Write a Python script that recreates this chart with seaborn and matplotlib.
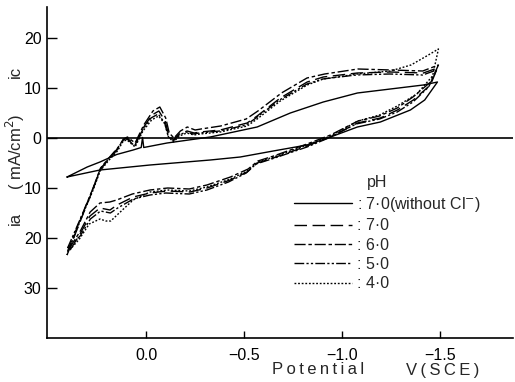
import numpy as np
import pandas as pd
import seaborn as sns
import matplotlib.pyplot as plt

# potential (V vs SCE) and current density (mA/cm2, ic positive / ia negative)
v_nocl = [0.403, 0.30, 0.235, 0.15, 0.066, 0.025, 0.018, 0.012, -0.107, -0.327, -0.566,
          -0.735, -0.903, -1.077, -1.245, -1.413, -1.485,
          -1.42, -1.347, -1.194, -1.077, -0.94, -0.82, -0.648, -0.48, -0.327, -0.02, 0.235, 0.403]
i_nocl = [-7.8, -5.8, -4.8, -3.3, -2.4, -1.9, 0.1, -1.9, -1.0, 0.2, 2.2,
          5.0, 7.2, 9.0, 9.8, 10.6, 11.2,
          7.6, 5.6, 3.2, 2.2, 0.2, -1.4, -2.6, -3.8, -4.4, -5.4, -6.4, -7.8]

v_ph7 = [0.403, 0.321, 0.276, 0.235, 0.194, 0.148, 0.117, 0.097, 0.056, 0.015, -0.03, -0.065,
         -0.097, -0.115, -0.14, -0.17, -0.209, -0.245, -0.276, -0.378, -0.515, -0.566, -0.684,
         -0.821, -0.903, -1.077, -1.245, -1.413, -1.485,
         -1.449, -1.362, -1.281, -1.194, -1.077, -0.939, -0.821, -0.648, -0.566, -0.515, -0.429,
         -0.311, -0.224, -0.107, -0.02, 0.066, 0.148, 0.184, 0.235, 0.286, 0.337, 0.403]
i_ph7 = [-23.4, -15.2, -10.8, -6.4, -4.4, -2.4, -0.4, 0.0, -1.4, 2.0, 4.6, 5.4,
         3.4, 0.6, -0.4, 0.8, 1.4, 1.0, 1.2, 1.6, 3.0, 4.4, 8.0,
         11.2, 12.2, 13.0, 13.2, 13.0, 14.0,
         10.6, 7.6, 5.6, 4.0, 3.0, 0.2, -1.6, -4.0, -5.0, -6.8, -8.4,
         -10.0, -10.8, -10.6, -11.0, -11.8, -13.4, -14.4, -14.0, -15.6, -19.2, -23.4]

v_ph6 = [0.40, 0.318, 0.272, 0.232, 0.19, 0.145, 0.115, 0.095, 0.056, 0.012, -0.035, -0.07,
         -0.1, -0.118, -0.142, -0.175, -0.21, -0.25, -0.28, -0.38, -0.51, -0.57, -0.69,
         -0.82, -0.91, -1.08, -1.25, -1.41, -1.49,
         -1.45, -1.36, -1.28, -1.19, -1.08, -0.94, -0.82, -0.65, -0.57, -0.52, -0.43,
         -0.31, -0.22, -0.11, -0.02, 0.07, 0.15, 0.185, 0.235, 0.285, 0.335, 0.40]
i_ph6 = [-22.6, -14.6, -10.2, -6.0, -4.0, -2.0, -0.2, 0.2, -1.0, 2.6, 5.4, 6.2,
         4.0, 1.0, 0.0, 1.4, 2.2, 1.6, 1.8, 2.4, 3.8, 5.4, 9.0,
         12.0, 12.8, 13.8, 13.6, 13.4, 14.6,
         11.2, 8.2, 6.0, 4.4, 3.4, 0.6, -1.2, -3.6, -4.6, -6.2, -7.8,
         -9.4, -10.2, -10.0, -10.4, -11.2, -12.4, -12.8, -13.0, -14.8, -18.6, -22.6]

v_ph5 = [0.40, 0.32, 0.275, 0.233, 0.192, 0.147, 0.116, 0.096, 0.058, 0.018, -0.025, -0.062,
         -0.095, -0.112, -0.138, -0.168, -0.205, -0.24, -0.272, -0.375, -0.51, -0.56, -0.68,
         -0.82, -0.90, -1.07, -1.24, -1.41, -1.48,
         -1.44, -1.36, -1.28, -1.19, -1.07, -0.93, -0.82, -0.64, -0.56, -0.51, -0.42,
         -0.31, -0.22, -0.10, -0.02, 0.065, 0.145, 0.182, 0.232, 0.284, 0.336, 0.40]
i_ph5 = [-22.0, -14.8, -10.6, -6.2, -4.2, -2.2, -0.4, -0.2, -1.6, 1.6, 4.0, 4.8,
         3.0, 0.4, -0.6, 0.6, 1.2, 0.8, 1.0, 1.4, 2.6, 4.0, 7.6,
         10.8, 11.8, 12.6, 12.8, 12.6, 13.6,
         10.2, 7.2, 5.2, 3.8, 2.8, 0.0, -1.8, -4.2, -5.2, -7.0, -8.8,
         -10.4, -11.2, -11.0, -11.4, -12.2, -14.0, -15.0, -14.6, -16.2, -19.6, -22.0]

v_ph4 = [0.398, 0.32, 0.274, 0.234, 0.193, 0.146, 0.116, 0.097, 0.056, 0.016, -0.028, -0.064,
         -0.096, -0.114, -0.14, -0.17, -0.207, -0.244, -0.275, -0.378, -0.515, -0.566, -0.684,
         -0.821, -0.903, -1.077, -1.245, -1.35, -1.43, -1.49,
         -1.46, -1.38, -1.28, -1.19, -1.08, -0.94, -0.82, -0.65, -0.57, -0.515, -0.43,
         -0.31, -0.22, -0.107, -0.02, 0.066, 0.148, 0.18, 0.205, 0.235, 0.29, 0.34, 0.398]
i_ph4 = [-22.8, -15.0, -10.8, -6.6, -4.6, -2.6, -0.6, -0.4, -1.8, 1.4, 3.6, 4.4,
         2.8, 0.2, -0.8, 0.4, 1.0, 0.6, 0.8, 1.2, 2.4, 3.8, 7.4,
         10.6, 11.8, 12.8, 13.4, 14.6, 16.4, 17.8,
         12.4, 8.8, 6.4, 4.6, 3.4, 0.4, -1.4, -3.8, -4.8, -6.6, -8.2,
         -9.8, -10.6, -10.4, -10.8, -12.4, -15.4, -16.6, -16.6, -16.2, -17.2, -20.2, -22.8]

curve_labels = [': 7\u00b70(without Cl$^{-}$)', ': 7\u00b70', ': 6\u00b70', ': 5\u00b70', ': 4\u00b70']
x_ticks = [0.0, -0.5, -1.0, -1.5]
x_ticklabels = ['0.0', '\u22120.5', '\u22121.0', '\u22121.5']
y_ticks = [20, 10, 0, -10, -20, -30]
y_ticklabels = ['20', '10', '0', '10', '20', '30']

sns.set_style('ticks')
plt.rcParams['font.family'] = ['Liberation Sans', 'DejaVu Sans']

fig = plt.figure(figsize=(5.15, 3.82), dpi=100)
ax = fig.add_axes([47 / 515, 44 / 382, 466 / 515, 331 / 382])

curves = [(v_nocl, i_nocl), (v_ph7, i_ph7), (v_ph6, i_ph6), (v_ph5, i_ph5), (v_ph4, i_ph4)]
dash_list = [None, (9, 4), (8, 2, 2.5, 2), (7, 1.6, 1.6, 1.6, 1.6, 1.6), (1.3, 1.3)]
handles = []
for (vv, ii), d in zip(curves, dash_list):
    df = pd.DataFrame({'V': vv, 'I': ii})
    sns.lineplot(data=df, x='V', y='I', sort=False, estimator=None, color='black', lw=1.0, ax=ax)
    line = ax.get_lines()[-1]
    if d is not None:
        line.set_dashes(d)
    handles.append(line)

ax.axhline(0, color='black', lw=1.2)

ax.set_xlim(0.505, -1.87)
ax.set_ylim(-40, 26.2)
ax.set_xticks(x_ticks)
ax.set_xticklabels(x_ticklabels)
ax.set_yticks(y_ticks)
ax.set_yticklabels(y_ticklabels)
ax.tick_params(axis='both', direction='in', length=7, width=1.0, labelsize=11.5, colors='black')
ax.tick_params(axis='x', length=5, pad=7)
ax.tick_params(axis='y', pad=4)
ax.set_xlabel('')
ax.set_ylabel('')
sns.despine(ax=ax)
for s in ['left', 'bottom']:
    ax.spines[s].set_linewidth(1.2)
    ax.spines[s].set_color('black')

leg = ax.legend(handles=handles, labels=curve_labels, loc='upper left',
                bbox_to_anchor=(294 / 515, 1 - 195 / 382), bbox_transform=fig.transFigure,
                frameon=False, fontsize=11.5, handlelength=3.6, handletextpad=0.35,
                labelspacing=0.27, borderpad=0, borderaxespad=0)
fig.text(377 / 515, 1 - 183 / 382, 'pH', fontsize=11.5, ha='center', va='center')

sp = '\u2009'
fig.text(318 / 515, 1 - 370 / 382, sp.join('Potential'), fontsize=12, ha='center', va='center')
fig.text(443 / 515, 1 - 370 / 382, sp.join('V(SCE)'), fontsize=12, ha='center', va='center')

fig.text(15 / 515, 1 - 218 / 382, 'ia', fontsize=12, rotation=90, ha='center', va='center')
fig.text(15 / 515, 1 - 152 / 382, '( mA/cm$^{2}$)', fontsize=12, rotation=90, ha='center', va='center')
fig.text(15 / 515, 1 - 72 / 382, 'ic', fontsize=12, rotation=90, ha='center', va='center')

fig.savefig('out.png', dpi=100)
